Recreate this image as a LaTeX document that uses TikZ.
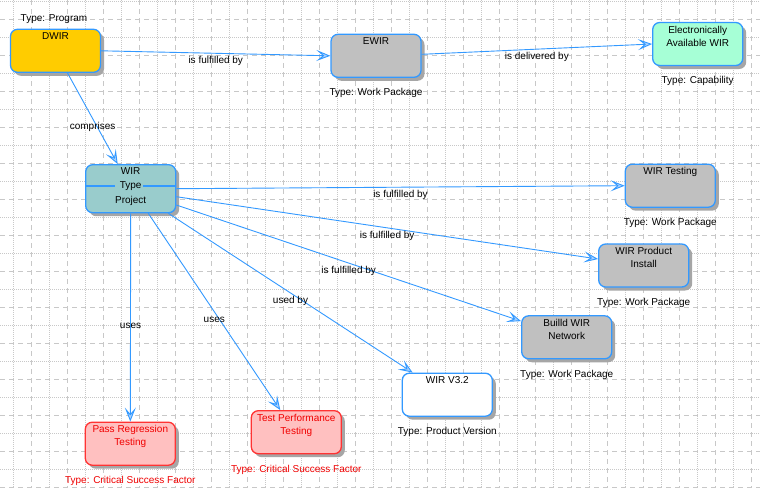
\documentclass[tikz,border=0pt]{standalone}
\usepackage{fontspec}
\setmainfont{Liberation Sans}
\usepackage{tikz}
\usetikzlibrary{arrows.meta, positioning, shadows}

\definecolor{edgeblue}{RGB}{51,153,255}
\definecolor{tipfill}{RGB}{170,210,255}
\definecolor{gridgray}{RGB}{200,200,200}
\definecolor{progfill}{RGB}{255,204,0}
\definecolor{wpfill}{RGB}{192,192,192}
\definecolor{capfill}{RGB}{166,255,214}
\definecolor{projfill}{RGB}{153,204,204}
\definecolor{csffill}{RGB}{255,192,192}
\definecolor{csfline}{RGB}{255,51,51}
\definecolor{csfred}{RGB}{240,0,0}

\begin{document}
\begin{tikzpicture}[x=1pt, y=-1pt,
  card/.style={rectangle, rounded corners=7pt, draw=edgeblue, line width=1.3pt,
              minimum width=90pt, minimum height=43pt, inner sep=0pt,
              drop shadow={shadow xshift=3.5pt, shadow yshift=-3.5pt,
                           fill=black!35, opacity=1}},
  boxtxt/.style={anchor=north, yshift=-3.9pt, align=center, inner sep=0pt,
              font=\fontsize{10}{13}\selectfont},
  cardtxt/.style={label={[boxtxt]north:{#1}}},
  csftxt/.style={label={[boxtxt, text=csfred]north:{#1}}},
  csf/.style={card, draw=csfline, fill=csffill},
  typelbl/.style={inner sep=0pt, text height=7.2pt, text depth=0pt,
              font=\fontsize{10}{12}\selectfont},
  rel/.style={draw=edgeblue, line width=0.9pt,
              -{Stealth[length=14pt, width=11pt, inset=6.5pt, fill=tipfill]}},
  elbl/.style={midway, yshift=-7pt, inner sep=0pt, text height=7.2pt,
              text depth=0pt, font=\fontsize{10}{12}\selectfont},
  griddot/.style={gridgray, line width=0.8pt, dash pattern=on 1pt off 1pt},
  griddash/.style={gridgray, line width=0.8pt, dash pattern=on 5pt off 4pt}
]

\useasboundingbox[fill=white] (0,0) rectangle (760,488);

% background grid
\foreach \k in {0,...,41}{
  \ifodd\k \def\gs{griddash}\else \def\gs{griddot}\fi
  \draw[\gs] (13.5+18*\k,0) -- (13.5+18*\k,488);
}
\foreach \k in {0,...,27}{
  \ifodd\k \def\gs{griddash}\else \def\gs{griddot}\fi
  \draw[\gs] (0,1+18*\k) -- (760,1+18*\k);
}

\node[card, fill=progfill, cardtxt=DWIR] (dwir) at (55.5,50.8) {};
\node[card, fill=wpfill, cardtxt=EWIR] (ewir) at (376,55.8) {};
\node[card, fill=capfill, cardtxt={Electronically\\Available WIR}] (eaw) at (697.7,44) {};
\node[card, fill=projfill, minimum height=48pt,
      label={[boxtxt, yshift=0.6pt, font=\fontsize{10}{14.5}\selectfont]north:{WIR\\Type\\Project}}]
      (wir) at (130.7,188.7) {};
\node[card, fill=wpfill, cardtxt={WIR Testing}] (wtest) at (670.3,185.7) {};
\node[card, fill=wpfill, cardtxt={WIR Product\\Install}] (wprod) at (643.7,265.5) {};
\node[card, fill=wpfill, cardtxt={Builld WIR\\Network}] (bwn) at (566.7,337.3) {};
\node[card, fill=white, cardtxt={WIR V3.2}] (wv) at (447.3,394.7) {};
\node[csf, csftxt={Pass Regression\\Testing}] (prt) at (130.3,443.7) {};
\node[csf, csftxt={Test Performance\\Testing}] (tpt) at (296.3,432.2) {};

% divider of the project card
\draw[edgeblue, line width=1.2pt] ([yshift=2.7pt]wir.west) -- ++(30,0);
\draw[edgeblue, line width=1.2pt] ([yshift=2.7pt]wir.east) -- ++(-33,0);

\node[typelbl, above=7.4pt of dwir, xshift=-1.5pt] (dwirT) {Type: Program};
\node[typelbl, below=10.4pt of ewir] (ewirT) {Type: Work Package};
\node[typelbl, below=10.4pt of eaw] (eawT) {Type: Capability};
\node[typelbl, below=10.4pt of wtest] (wtestT) {Type: Work Package};
\node[typelbl, below=10.4pt of wprod] (wprodT) {Type: Work Package};
\node[typelbl, below=10.4pt of bwn] (bwnT) {Type: Work Package};
\node[typelbl, below=10.4pt of wv] (wvT) {Type: Product Version};
\node[typelbl, text=csfred, below=10.4pt of prt] (prtT) {Type: Critical Success Factor};
\node[typelbl, text=csfred, below=10.4pt of tpt] (tptT) {Type: Critical Success Factor};

\draw[rel] (dwir.east) -- (ewir.west) node[elbl] {is fulfilled by};
\draw[rel] ([yshift=1.5pt]ewir.east) -- (eaw.west) node[elbl] {is delivered by};
\draw[rel] ([xshift=12pt]dwir.south) -- ([xshift=-13pt]wir.north) node[elbl] {comprises};
\draw[rel] (wir.east) -- (wtest.west) node[elbl] {is fulfilled by};
\draw[rel] ([yshift=-8pt]wir.east) -- ([yshift=6.5pt]wprod.west) node[elbl] {is fulfilled by};
\draw[rel] ([yshift=-16.3pt]wir.east) -- ([yshift=-6pt]bwn.north west) node[elbl] {is fulfilled by};
\draw[rel] ([xshift=-8pt]wir.south east) -- ([xshift=11pt]wv.north west) node[elbl] {used by};
\draw[rel] (wir.south) -- (prt.north) node[elbl] {uses};
\draw[rel] ([xshift=17.6pt]wir.south) -- ([xshift=-16pt]tpt.north) node[elbl] {uses};

\end{tikzpicture}
\end{document}
